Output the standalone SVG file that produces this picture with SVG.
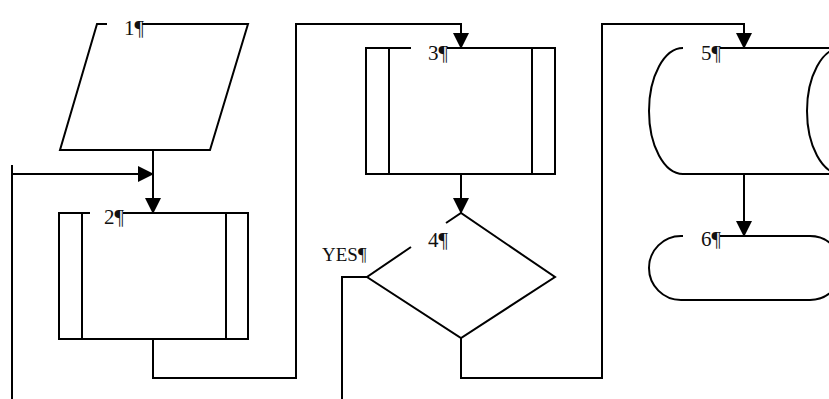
<svg xmlns="http://www.w3.org/2000/svg" width="829" height="399" viewBox="0 0 829 399">
<style>
.s{fill:none;stroke:#000;stroke-width:2}
.t{font-family:"Liberation Serif","Times New Roman",serif;font-size:21px;fill:#111}
.y{font-size:19px}
</style>
<defs>
<marker id="ah" markerUnits="userSpaceOnUse" markerWidth="16" markerHeight="16" refX="15" refY="8" orient="auto">
<path d="M0,0 L16,8 L0,16 z" fill="#000"/>
</marker>
</defs>
<rect width="829" height="399" fill="#fff"/>
<g id="connectors" class="s">
<path d="M153,150 V213" marker-end="url(#ah)"/>
<path d="M12,399 V165"/>
<path d="M12,174 H153" marker-end="url(#ah)"/>
<path d="M153,339 V378 H296 V24 H461 V48" marker-end="url(#ah)"/>
<path d="M461,174 V213" marker-end="url(#ah)"/>
<path d="M367,277 H342 V399"/>
<path d="M461,338 V378 H602 V24 H744 V48" marker-end="url(#ah)"/>
<path d="M744,174 V236" marker-end="url(#ah)"/>
</g>
<g id="node1">
<path class="s" d="M107,24 H97 L60,150 H210 L248,24 H142"/>
<text class="t" x="124" y="35">1¶</text>
</g>
<g id="node2">
<path class="s" d="M90,213 H59 V339 H248 V213 H123 M82,213 V339 M226,213 V339"/>
<text class="t" x="104" y="224">2¶</text>
</g>
<g id="node3">
<path class="s" d="M411,48 H366 V174 H555 V48 H447 M389,48 V174 M532,48 V174"/>
<text class="t" x="428" y="60">3¶</text>
</g>
<g id="node4">
<path class="s" d="M446,223 L461,213 L555,277 L461,338 L367,277 L411,247"/>
<text class="t" x="428" y="247">4¶</text>
<text class="t y" x="322" y="261">YES¶</text>
</g>
<g id="node5">
<path class="s" d="M683,48 A34,63 0 0 0 683,174 H841 M720,48 H841 M841,48 A34,63 0 0 0 841,174"/>
<text class="t" x="701" y="60">5¶</text>
</g>
<g id="node6">
<path class="s" d="M683,236 H681 A32,32 0 0 0 681,300 H810 A32,32 0 0 0 810,236 H720"/>
<text class="t" x="701" y="246">6¶</text>
</g>
</svg>
